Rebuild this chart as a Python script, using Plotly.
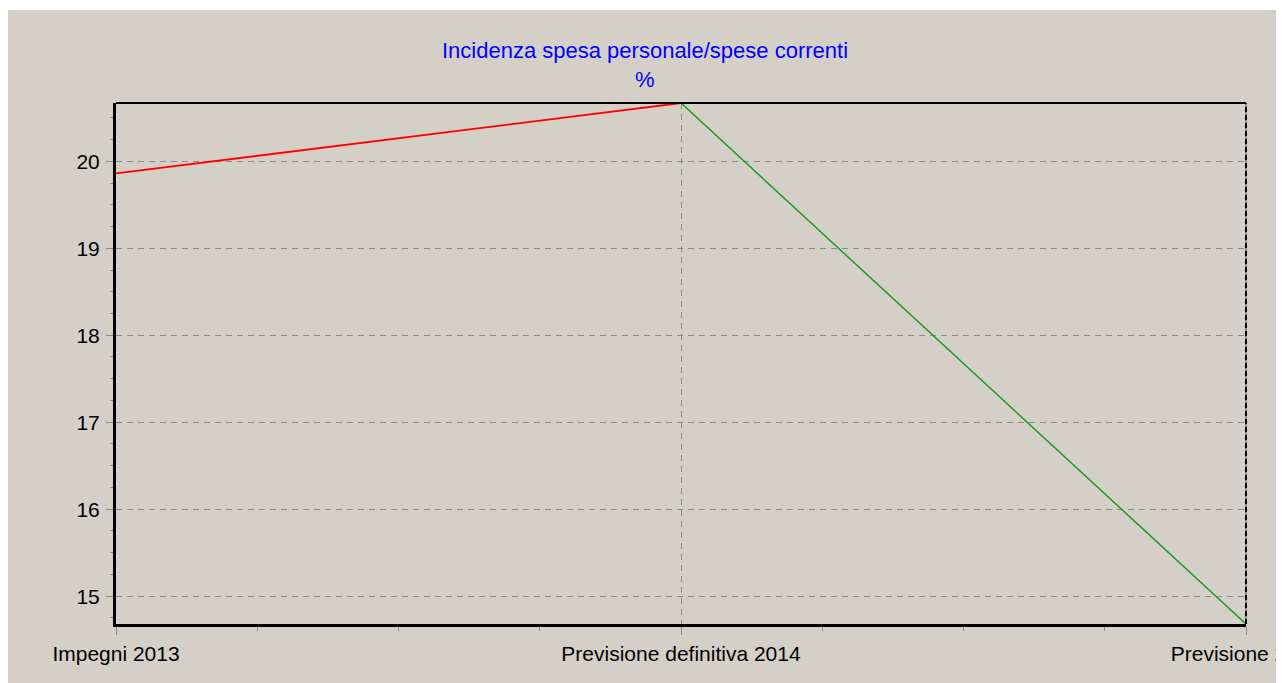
import plotly.graph_objects as go

categories = ["Impegni 2013", "Previsione definitiva 2014", "Previsione 2015"]
values = [19.86, 20.67, 14.68]
title_line1 = "Incidenza spesa personale/spese correnti"
title_line2 = "%"

# page has an 8px body margin; figure coordinates = page coordinates - 8
OFF = 8
W, H = 1284 - OFF, 683 - OFF
L, R, T, B = 116 - OFF, 1246 - OFF, 103 - OFF, 624 - OFF  # plot area pixels

def px_x(p):
    return (p - OFF - L) / (R - L)

def px_y(p):
    return (B - (p - OFF)) / (B - T)

xs = list(range(len(categories)))
BG = "#d4d0c8"
GRID = "#8a8a8a"
FONT = "Liberation Sans, Arial, sans-serif"

fig = go.Figure()
fig.add_trace(go.Scatter(x=xs[0:2], y=values[0:2], mode="lines",
                         line=dict(color="#ff0000", width=1.8), showlegend=False))
fig.add_trace(go.Scatter(x=xs[1:3], y=values[1:3], mode="lines",
                         line=dict(color="#1e9a1e", width=1.5), showlegend=False))

fig.update_layout(
    width=W, height=H,
    margin=dict(l=L, r=W - R, t=T, b=H - B, pad=0, autoexpand=False),
    paper_bgcolor=BG, plot_bgcolor=BG,
    font=dict(family=FONT, size=21, color="#000000"),
    showlegend=False,
)
fig.update_xaxes(
    automargin=False,
    range=[0, len(categories) - 1],
    tickmode="array", tickvals=xs, ticktext=categories,
    ticks="outside", ticklen=8, tickcolor=GRID, tickwidth=1,
    ticklabelstandoff=1, ticklabeloverflow="allow",
    tickfont=dict(size=21, family=FONT),
    showgrid=True, gridcolor=GRID, gridwidth=1, griddash="6px,5px",
    showline=True, linecolor="#000000", linewidth=3,
    zeroline=False,
    minor=dict(dtick=0.25, tick0=0, ticks="outside", ticklen=4, tickcolor=GRID, tickwidth=1, showgrid=False),
)
fig.update_yaxes(
    automargin=False,
    range=[min(values), max(values)],
    tickmode="linear", tick0=0, dtick=1,
    ticks="outside", ticklen=7, tickcolor=GRID, tickwidth=1,
    ticklabelstandoff=2,
    tickfont=dict(size=21, family=FONT),
    showgrid=True, gridcolor=GRID, gridwidth=1, griddash="6px,5px",
    showline=True, linecolor="#000000", linewidth=3,
    zeroline=False,
    minor=dict(dtick=0.25, tick0=0, ticks="outside", ticklen=3, tickcolor=GRID, tickwidth=1, showgrid=False),
)

shapes = [
    # top border
    dict(type="line", xref="paper", yref="paper", x0=0, x1=1, y0=1, y1=1,
         line=dict(color="#000000", width=2)),
    # right border (dashed)
    dict(type="line", xref="paper", yref="paper", x0=1, x1=1, y0=0, y1=1,
         line=dict(color=GRID, width=2)),
    dict(type="line", xref="paper", yref="paper", x0=1, x1=1, y0=0, y1=1,
         line=dict(color="#000000", width=2, dash="5px,3px")),
    # thin white strip at very top
    dict(type="rect", xref="paper", yref="paper", x0=px_x(0), x1=px_x(1290), y0=px_y(10), y1=px_y(0),
         line=dict(width=0), fillcolor="#ffffff", layer="below"),
    # right window edge
    dict(type="line", xref="paper", yref="paper", x0=px_x(1280), x1=px_x(1280), y0=px_y(540), y1=px_y(10),
         line=dict(color="#9a9a9a", width=2), layer="below"),
]
fig.update_layout(shapes=shapes)

fig.add_annotation(text=title_line1, xref="paper", yref="paper",
                   x=px_x(645), y=px_y(51), showarrow=False,
                   xanchor="center", yanchor="middle",
                   font=dict(family=FONT, size=22, color="#0000ff"))
fig.add_annotation(text=title_line2, xref="paper", yref="paper",
                   x=px_x(645), y=px_y(79), showarrow=False,
                   xanchor="center", yanchor="middle",
                   font=dict(family=FONT, size=22, color="#0000ff"))

fig.write_html("out.html")
